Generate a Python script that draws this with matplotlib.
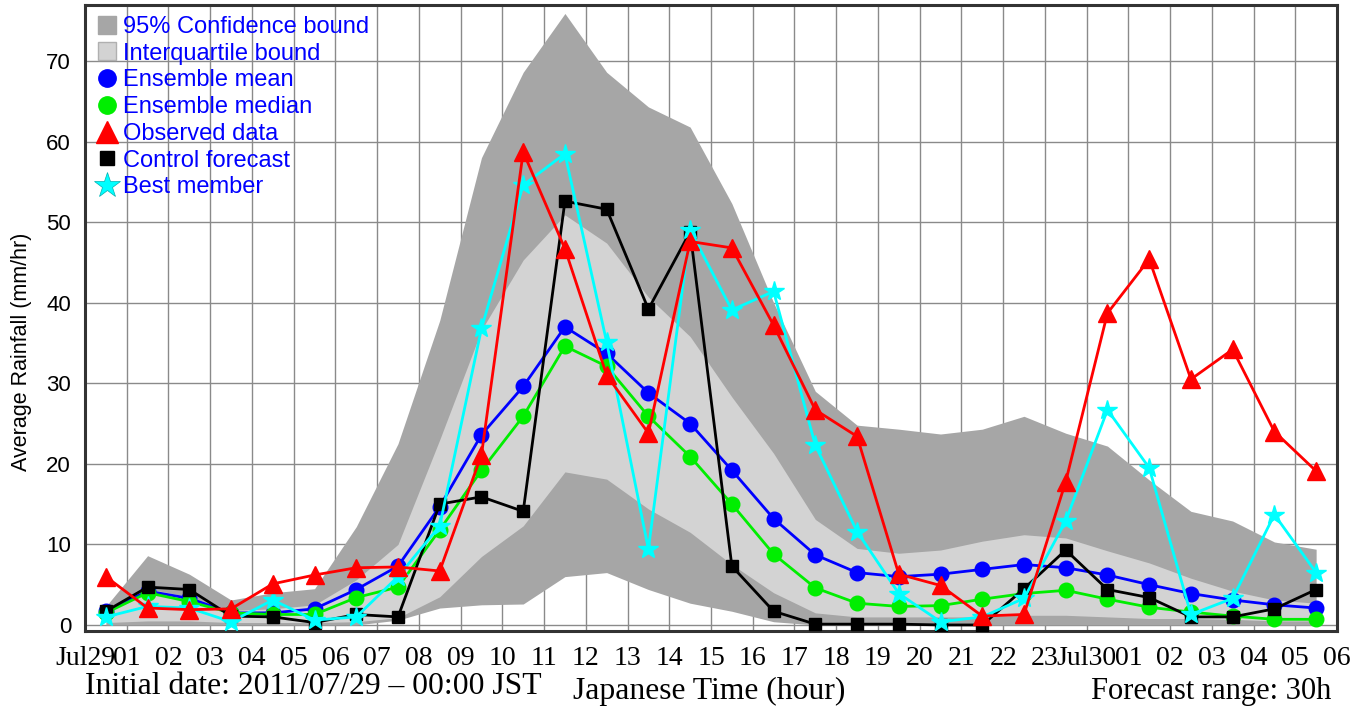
import numpy as np
import matplotlib
matplotlib.use("Agg")
import matplotlib.pyplot as plt
from matplotlib.lines import Line2D

# Forecast hours (mid-hour of each 30 one-hour windows from 2011/07/29 00 JST)
hours = np.arange(0.5, 30, 1.0)

tick_labels = ["Jul29"] + [f"{h:02d}" for h in range(1, 24)] + ["Jul30"] + [f"{h:02d}" for h in range(1, 7)]

observed = [6.0, 2.1, 1.9, 2.0, 5.1, 6.2, 7.1, 7.2, 6.7, 21.1, 58.7, 46.7, 31.0, 23.8, 47.6,
            46.8, 37.2, 26.7, 23.4, 6.3, 4.9, 1.1, 1.3, 17.8, 38.7, 45.4, 30.5, 34.2, 24.0, 19.1]
ens_mean = [1.7, 4.2, 3.3, 1.5, 1.5, 2.0, 4.4, 7.3, 14.7, 23.6, 29.6, 37.0, 33.7, 28.8, 25.0,
            19.2, 13.2, 8.7, 6.5, 6.0, 6.3, 6.9, 7.5, 7.1, 6.2, 5.0, 3.9, 3.1, 2.5, 2.1]
ens_median = [1.5, 4.0, 2.9, 1.5, 1.3, 1.3, 3.4, 4.7, 11.8, 19.2, 25.9, 34.6, 32.1, 25.9, 20.9,
              15.0, 8.8, 4.6, 2.7, 2.3, 2.4, 3.2, 3.9, 4.3, 3.2, 2.2, 1.6, 1.1, 0.7, 0.7]
control = [1.7, 4.7, 4.4, 1.1, 1.0, 0.3, 1.3, 1.0, 15.0, 15.9, 14.1, 52.6, 51.6, 39.2, 48.8,
           7.3, 1.7, 0.1, 0.1, 0.1, 0.0, 0.0, 4.5, 9.3, 4.4, 3.4, 1.0, 1.0, 2.0, 4.4]
best_member = [1.0, 2.3, 2.1, 0.4, 3.1, 0.6, 1.0, 6.0, 12.3, 36.8, 54.6, 58.5, 35.1, 9.4, 49.0,
               39.1, 41.4, 22.3, 11.6, 3.9, 0.4, 1.0, 3.3, 12.9, 26.7, 19.5, 1.3, 3.3, 13.7, 6.5]

ci95_upper = [2.3, 8.6, 6.3, 3.1, 4.0, 4.5, 12.2, 22.5, 37.8, 58.0, 68.6, 75.9, 68.6, 64.3, 61.8,
              52.3, 40.0, 29.0, 24.8, 24.3, 23.7, 24.3, 25.9, 23.8, 22.2, 18.0, 14.1, 12.9, 10.3, 9.4]
ci95_lower = [0.0, 0.0, 0.0, 0.0, 0.0, 0.0, 0.0, 0.6, 2.1, 2.5, 2.6, 6.0, 6.5, 4.4, 2.7,
              1.7, 0.4, 0.0, 0.0, 0.0, 0.0, 0.0, 0.0, 0.0, 0.0, 0.0, 0.0, 0.0, 0.0, 0.0]
iqr_upper = [1.8, 4.5, 3.5, 1.8, 2.0, 2.5, 5.6, 10.0, 23.0, 36.6, 45.3, 50.9, 47.4, 40.7, 35.8,
             28.3, 21.3, 13.1, 9.5, 8.9, 9.3, 10.4, 11.2, 10.8, 9.2, 7.7, 5.8, 4.2, 3.1, 2.7]
iqr_lower = [0.3, 0.5, 0.5, 0.3, 0.3, 0.3, 0.4, 0.9, 3.5, 8.5, 12.3, 19.0, 18.1, 14.4, 11.5,
             7.5, 4.0, 1.5, 1.0, 1.0, 1.0, 1.0, 1.2, 1.2, 1.0, 0.8, 0.8, 0.7, 0.5, 0.5]

DARK = "#a6a6a6"
LIGHT = "#d3d3d3"
SERIF = "Liberation Serif"
SANS = "Liberation Sans"

W, H = 1369, 709
fig = plt.figure(figsize=(W / 100, H / 100), dpi=100)
ax = fig.add_axes([85 / W, 1 - 631 / H, (1337 - 85) / W, (631 - 5) / H])

ax.set_xlim(0, 30)
ax.set_ylim(-0.75, 76.95)

ax.fill_between(hours, ci95_lower, ci95_upper, color=DARK, lw=0, zorder=1)
ax.fill_between(hours, iqr_lower, iqr_upper, color=LIGHT, lw=0, zorder=1.1)

lw = 2.0
ax.plot(hours, ens_mean, color="#0000ff", lw=lw, marker="o", ms=10.5, zorder=3)
ax.plot(hours, ens_median, color="#00ee00", lw=lw, marker="o", ms=10.5, zorder=3)
ax.plot(hours, control, color="black", lw=lw, marker="s", ms=9, zorder=3)
ax.plot(hours, best_member, color="#00ffff", lw=lw, marker="*", ms=15, zorder=3)
ax.plot(hours, observed, color="#ff0000", lw=lw, marker="^", ms=13, zorder=3)

ax.set_xticks(np.arange(0, 31))
ax.set_xticklabels(tick_labels, fontfamily=SERIF, fontsize=20)
ax.set_yticks(np.arange(0, 71, 10))
ax.set_yticklabels([str(v) for v in range(0, 71, 10)], fontfamily=SANS, fontsize=16)
ax.tick_params(axis="x", length=0, pad=11)
ax.tick_params(axis="y", length=0, pad=10)

ax.set_axisbelow(True)
ax.grid(True, color="#8a8a8a", lw=1.0)
for sp in ax.spines.values():
    sp.set_linewidth(2.2)
    sp.set_color("#333333")

fig.text(22 / W, 1 - 352 / H, "Average Rainfall (mm/hr)", rotation=90, ha="center", va="center",
         fontfamily=SANS, fontsize=15.5)

fig.text(85 / W, 1 - 687 / H, "Initial date: 2011/07/29 \u2013 00:00 JST", ha="left", va="center",
         fontfamily=SERIF, fontsize=22.8)
fig.text(709 / W, 1 - 691 / H, "Japanese Time (hour)", ha="center", va="center",
         fontfamily=SERIF, fontsize=22.8)
fig.text(1331 / W, 1 - 691 / H, "Forecast range: 30h", ha="right", va="center",
         fontfamily=SERIF, fontsize=22)

handles = [
    Line2D([], [], ls="none", marker="s", ms=13, mfc=DARK, mec=DARK),
    Line2D([], [], ls="none", marker="s", ms=13, mfc=LIGHT, mec="#b0b0b0"),
    Line2D([], [], ls="none", marker="o", ms=12.5, color="#0000ff"),
    Line2D([], [], ls="none", marker="o", ms=12.5, color="#00ee00"),
    Line2D([], [], ls="none", marker="^", ms=16, color="#ff0000"),
    Line2D([], [], ls="none", marker="s", ms=10.5, color="black"),
    Line2D([], [], ls="none", marker="*", ms=19, color="#00ffff", mec="#00b0b0", mew=0.5),
]
labels = ["95% Confidence bound", "Interquartile bound", "Ensemble mean", "Ensemble median",
          "Observed data", "Control forecast", "Best member"]
leg = ax.legend(handles, labels, loc="upper left", bbox_to_anchor=(95 / W, 1 - 16 / H),
                bbox_transform=fig.transFigure, frameon=False, borderpad=0, borderaxespad=0,
                handlelength=1.0, handletextpad=0.2, labelspacing=0.2,
                prop={"family": SANS, "size": 17}, labelcolor="#0000ff")
leg.set_zorder(5)

fig.savefig("out.png", dpi=100)
